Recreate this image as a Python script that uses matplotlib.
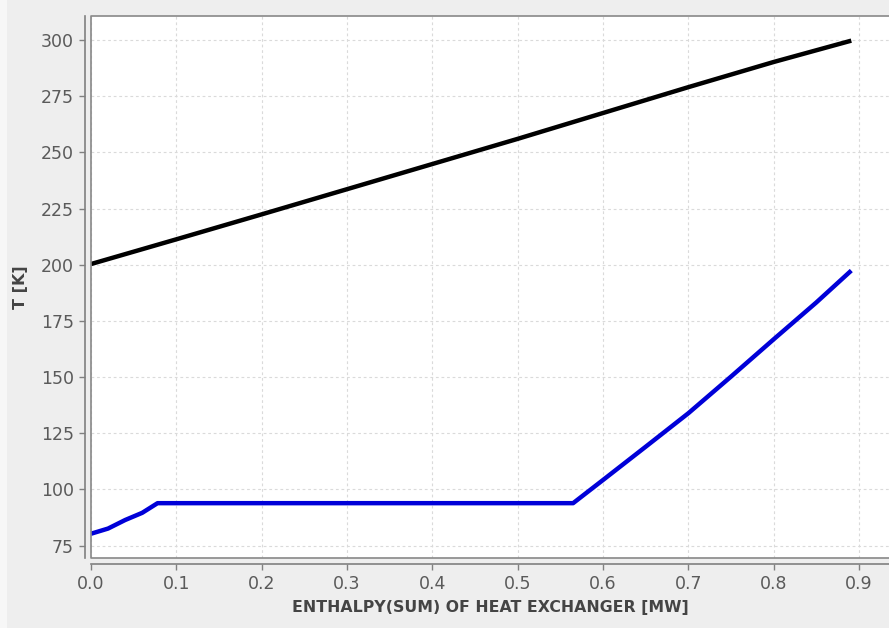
import numpy as np
import matplotlib
matplotlib.use("Agg")
import matplotlib.pyplot as plt
from matplotlib.patches import Rectangle

# hot stream (black) and cold stream (blue)
hot_h = [0.0, 0.1, 0.2, 0.3, 0.4, 0.5, 0.6, 0.7, 0.8, 0.891]
hot_t = [200.3, 211.3, 222.4, 233.6, 244.8, 256.0, 267.5, 279.0, 290.2, 299.7]

cold_h = [0.0, 0.02, 0.04, 0.06, 0.078, 0.2, 0.3, 0.4, 0.5, 0.565,
          0.6, 0.65, 0.7, 0.75, 0.8, 0.85, 0.891]
cold_t = [80.3, 82.6, 86.4, 89.6, 93.9, 93.9, 93.9, 93.9, 93.9, 93.9,
          104.2, 119.0, 133.9, 150.2, 166.8, 183.2, 197.4]

x_ticks = [0.0, 0.1, 0.2, 0.3, 0.4, 0.5, 0.6, 0.7, 0.8, 0.9]
y_ticks = [75, 100, 125, 150, 175, 200, 225, 250, 275, 300]

fig = plt.figure(figsize=(8.89, 6.28), dpi=100, facecolor="#eeeeee")
# thin lighter strip on the far left, as in the screenshot
fig.patches.append(Rectangle((0, 0), 7 / 889, 1, transform=fig.transFigure,
                             fc="#f7f7f7", ec="none"))
ax = fig.add_axes([91 / 889, 1 - 558 / 628, 1 - 91 / 889, (558 - 15.7) / 628])
ax.set_facecolor("white")

ax.plot(hot_h, hot_t, color="black", lw=3.2, solid_capstyle="butt", zorder=3)
ax.plot(cold_h, cold_t, color="#0000d8", lw=3.2, solid_capstyle="butt", zorder=3)

ax.set_xlim(0.0, (889 - 91) / 853.3)
ax.set_ylim(69.5, 310.8)
ax.set_xticks(x_ticks)
ax.set_xticklabels(["%.1f" % v for v in x_ticks])
ax.set_yticks(y_ticks)

ax.grid(True, color="#dadada", lw=0.8, linestyle=(0, (2.5, 2.5)))
ax.set_axisbelow(True)

for s in ["top", "right"]:
    ax.spines[s].set_visible(False)
for s in ["left", "bottom"]:
    ax.spines[s].set_position(("outward", 4.5))
    ax.spines[s].set_color("#808080")
    ax.spines[s].set_linewidth(1.2)
# plot-area outline: top, left, bottom (right side is cut off in the screenshot)
ax.plot([1, 0, 0, 1], [1, 1, 0, 0], transform=ax.transAxes, color="#888888",
        lw=1.2, clip_on=False, zorder=4)

ax.tick_params(axis="both", colors="#808080", length=4, width=1,
               labelsize=12.5, labelcolor="#5a5a5a", pad=4)

ax.set_xlabel("ENTHALPY(SUM) OF HEAT EXCHANGER [MW]", fontsize=11.3,
              fontweight="bold", color="#444444", labelpad=5)
ax.set_ylabel("T [K]", fontsize=11.5, fontweight="bold", color="#444444",
              labelpad=9)

fig.savefig("out.png", dpi=100, facecolor=fig.get_facecolor())
